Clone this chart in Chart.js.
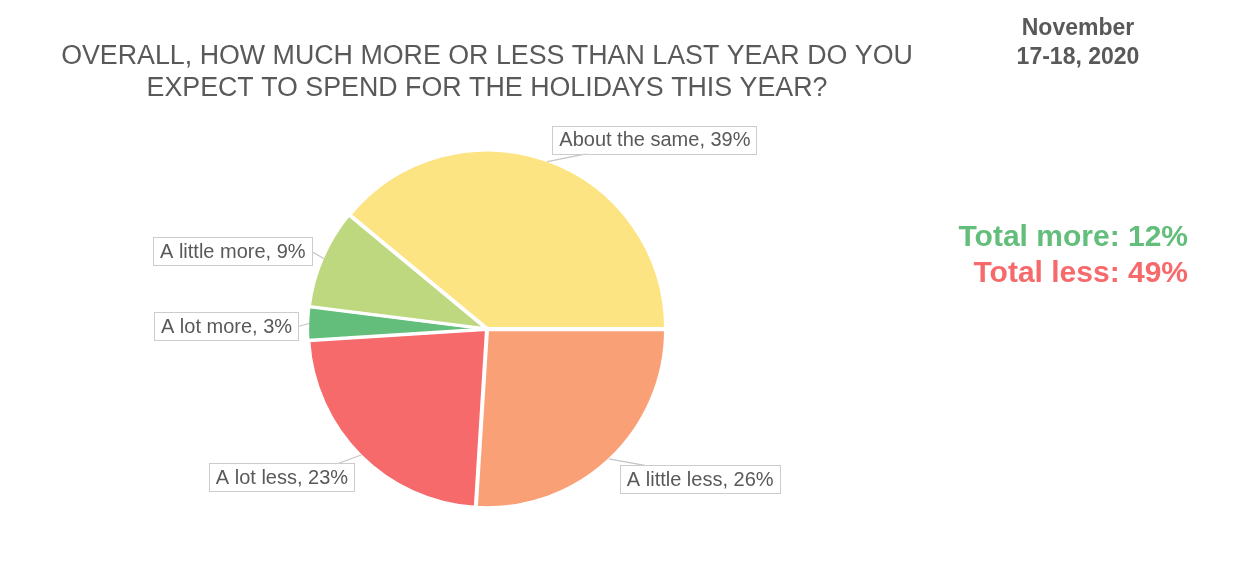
<!DOCTYPE html>
<html>
<head>
<meta charset="utf-8">
<script src="https://cdn.jsdelivr.net/npm/chart.js@4/dist/chart.umd.min.js"></script>
<style>
  html, body { margin: 0; padding: 0; background: #fff; }
  #wrap { width: 1252px; height: 565px; position: relative; }
</style>
</head>
<body>
<div id="wrap"><canvas id="pie"></canvas></div>
<script>
// data, clockwise from 3 o'clock
const categories = ['A little less', 'A lot less', 'A lot more', 'A little more', 'About the same'];
const shares = [26, 23, 3, 9, 39];
const sliceColors = ['#f9a076', '#f76a6c', '#62be7a', '#bdd87e', '#fde483'];
const titleLines = ['OVERALL, HOW MUCH MORE OR LESS THAN LAST YEAR DO YOU', 'EXPECT TO SPEND FOR THE HOLIDAYS THIS YEAR?'];
const dateLines = ['November', '17-18, 2020'];
const totalsText = ['Total more: 12%', 'Total less: 49%'];

const FONT = '"Liberation Sans", Arial, sans-serif';
const GREY = '#595959';

// label box placement relative to the slice edge point: side, dx, dy, where the connector meets the box
const labelPlacement = [
    { side: 'right', dx: 11, dy: 20.5, join: 'top', jx: 25 },
    { side: 'left', dx: -7, dy: 22.5, join: 'top', jx: -16 },
    { side: 'left', dx: -11, dy: 3, join: 'side' },
    { side: 'left', dx: -12, dy: -7, join: 'side' },
    { side: 'right', dx: 5, dy: -22, join: 'bottom', jx: 35 },
];

const calloutLabels = {
    id: 'calloutLabels',
    afterDatasetsDraw(chart) {
        const ctx = chart.ctx;
        const arcs = chart.getDatasetMeta(0).data;
        ctx.save();
        ctx.font = '20px ' + FONT;
        arcs.forEach((arc, i) => {
            const mid = (arc.startAngle + arc.endAngle) / 2;
            const px = arc.x + Math.cos(mid) * arc.outerRadius;
            const py = arc.y + Math.sin(mid) * arc.outerRadius;
            const text = categories[i] + ', ' + shares[i] + '%';
            const w = ctx.measureText(text).width + 13;
            const h = 28;
            const p = labelPlacement[i];
            const left = p.side === 'right' ? px + p.dx : px + p.dx - w;
            const top = py + p.dy - h / 2;

            let jx, jy;
            if (p.join === 'side') {
                jx = p.side === 'right' ? left : left + w;
                jy = top + h / 2;
            } else {
                jx = p.jx > 0 ? left + p.jx : left + w + p.jx;
                jy = p.join === 'top' ? top : top + h;
            }
            ctx.strokeStyle = '#c4c4c4';
            ctx.lineWidth = 1.2;
            ctx.beginPath();
            ctx.moveTo(px, py);
            ctx.lineTo(jx, jy);
            ctx.stroke();

            ctx.fillStyle = '#ffffff';
            ctx.fillRect(left, top, w, h);
            ctx.strokeStyle = '#cccccc';
            ctx.lineWidth = 1;
            ctx.strokeRect(Math.round(left) + 0.5, Math.round(top) + 0.5, Math.round(w), h);

            ctx.fillStyle = GREY;
            ctx.textBaseline = 'middle';
            ctx.textAlign = 'left';
            ctx.fillText(text, left + 7, top + h / 2 + 1);
        });
        ctx.restore();
    }
};

const sideNotes = {
    id: 'sideNotes',
    afterDraw(chart) {
        const ctx = chart.ctx;
        ctx.save();
        ctx.textBaseline = 'middle';
        ctx.textAlign = 'center';
        ctx.fillStyle = GREY;
        ctx.font = 'bold 23px ' + FONT;
        ctx.fillText(dateLines[0], 1078, 29);
        ctx.fillText(dateLines[1], 1078, 58);

        ctx.textAlign = 'right';
        ctx.font = 'bold 30px ' + FONT;
        ctx.fillStyle = '#62be7a';
        ctx.fillText(totalsText[0], 1188, 238);
        ctx.fillStyle = '#f76a6c';
        ctx.fillText(totalsText[1], 1188, 274);
        ctx.restore();
    }
};

new Chart(document.getElementById('pie'), {
    type: 'pie',
    data: {
        labels: categories,
        datasets: [{
            data: shares,
            backgroundColor: sliceColors,
            borderColor: '#ffffff',
            borderWidth: 3,
            offset: 3,
            hoverOffset: 0
        }]
    },
    options: {
        responsive: true,
        maintainAspectRatio: false,
        animation: false,
        rotation: 90,
        radius: 178,
        layout: { padding: { left: 0, right: 278, top: 0, bottom: 17 } },
        plugins: {
            legend: { display: false },
            tooltip: { enabled: false },
            title: {
                display: true,
                text: titleLines,
                color: GREY,
                font: { family: FONT, size: 26.8, weight: 'normal', lineHeight: 1.16 },
                padding: { top: 41.5, bottom: 6.5 }
            }
        }
    },
    plugins: [calloutLabels, sideNotes]
});
</script>
</body>
</html>
